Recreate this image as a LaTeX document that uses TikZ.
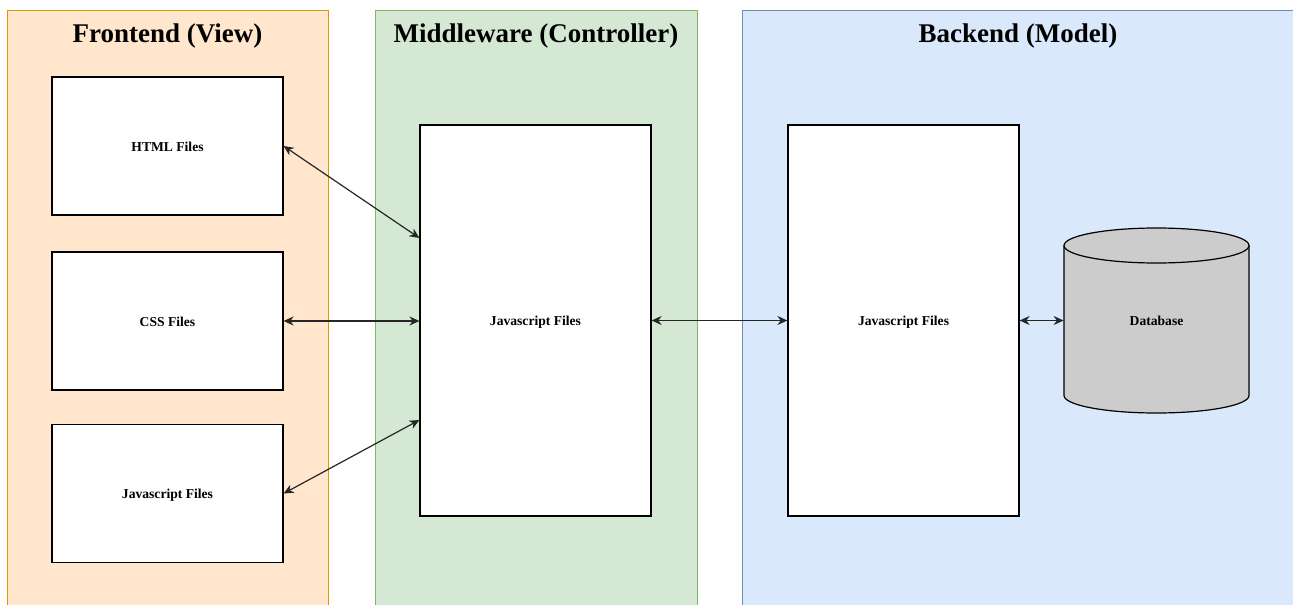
\documentclass[tikz,border=0pt]{standalone}
\usepackage{fontspec}
\setmainfont{Liberation Serif}
\usetikzlibrary{arrows.meta,calc}
\definecolor{viewfill}{HTML}{FFE6CC}
\definecolor{viewline}{HTML}{D79B00}
\definecolor{ctrlfill}{HTML}{D5E8D4}
\definecolor{ctrlline}{HTML}{82B366}
\definecolor{modelfill}{HTML}{DAE8FC}
\definecolor{modelline}{HTML}{6C8EBF}
\definecolor{dbfill}{HTML}{CCCCCC}
\tikzset{
  panel/.style={draw,line width=0.6pt,anchor=north west,minimum height=310pt,inner sep=0pt},
  title/.style={font=\fontsize{13.5}{16}\selectfont\bfseries},
  label text/.style={font=\fontsize{6.8}{8}\selectfont\bfseries,text height=5.3pt,text depth=0pt},
  filebox/.style={draw,fill=white,line width=0.6pt,minimum width=115.5pt,label text},
  rim/.style={x radius=46.25pt,y radius=8.75pt},
  link/.style={<->,>={Stealth[length=5pt,width=4.5pt]},line width=0.6pt,draw=black!85}
}

\begin{document}
\begin{tikzpicture}[x=0.5pt,y=-0.5pt]
    \path[use as bounding box,clip] (0,0) rectangle (1293,604);

    % layers
    \node[panel,draw=viewline,fill=viewfill,minimum width=160.5pt] (view) at (7,10) {};
    \node[panel,draw=ctrlline,fill=ctrlfill,minimum width=161pt] (ctrl) at (375,10) {};
    \node[panel,draw=modelline,fill=modelfill,minimum width=276pt] (model) at (742,10) {};

    \node[title] (viewtitle) at (167.5,36.5) {Frontend (View)};
    \node[title] (ctrltitle) at (536,36.5) {Middleware (Controller)};
    \node[title] (modeltitle) at (1018,36.5) {Backend (Model)};

    % frontend
    \node[filebox,minimum height=69pt] (html) at (167.5,146) {HTML Files};
    \node[filebox,minimum height=69pt] (css) at (167.5,321) {CSS Files};
    \node[filebox,minimum height=69pt] (js) at (167.5,493.5) {Javascript Files};

    % middleware and backend
    \node[filebox,minimum height=195.5pt] (mid) at (535.5,320.5) {Javascript Files};
    \node[filebox,minimum height=195.5pt] (back) at (903.5,320.5) {Javascript Files};

    % database
    \coordinate (dbc) at (1156.5,320.5);
    \draw[line width=0.6pt,fill=dbfill] ($(dbc)+(-92.5,-75)$) -- ($(dbc)+(-92.5,75)$)
      arc[start angle=180,end angle=360,rim] -- ($(dbc)+(92.5,-75)$)
      arc[start angle=0,end angle=180,rim] -- cycle;
    \draw[line width=0.6pt] ($(dbc)+(-92.5,-75)$) arc[start angle=180,end angle=360,rim];
    \node[label text,minimum width=92.5pt,minimum height=92.5pt,inner sep=0pt] (db) at (dbc) {Database};

    \draw[link] (html.east) -- ($(mid.west)+(0,-82.5)$);
    \draw[link] (css.east) -- (mid.west |- css.east);
    \draw[link] (js.east) -- ($(mid.west)+(0,99.5)$);
    \draw[link] (mid.east) -- (back.west);
    \draw[link] (back.east) -- (db.west);
  \end{tikzpicture}
\end{document}
